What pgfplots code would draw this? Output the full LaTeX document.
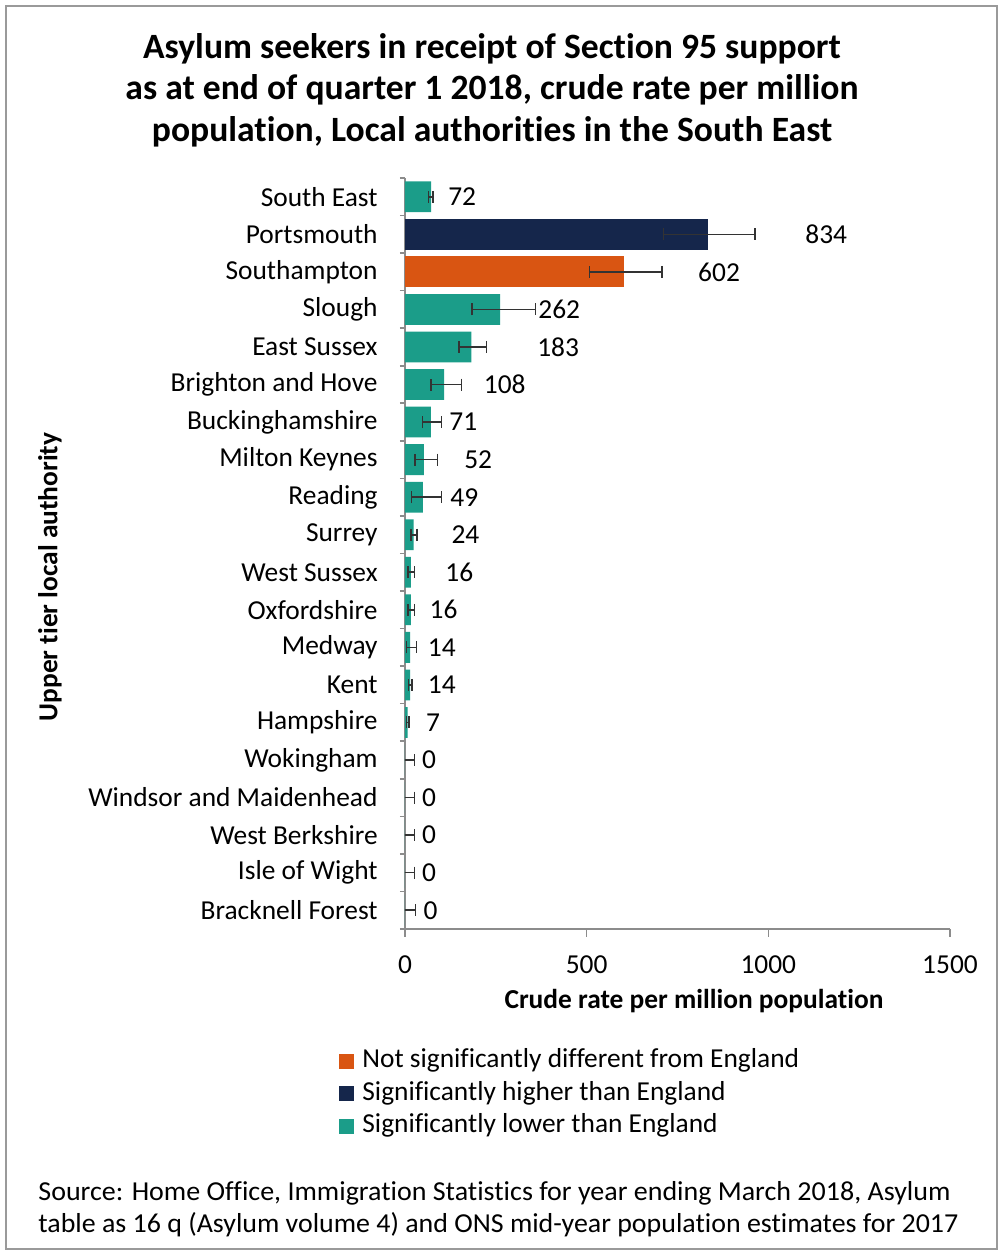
\documentclass[border=0pt]{standalone}
\usepackage{fontspec}
\setmainfont{Carlito}[Ligatures=NoCommon]
\usepackage{graphicx}
\usepackage{pgfplots}
\pgfplotsset{compat=1.18}

\definecolor{sigLower}{HTML}{1B9D89}
\definecolor{sigHigher}{HTML}{15264B}
\definecolor{notSig}{HTML}{D95512}
\definecolor{axisGray}{HTML}{8C8C8C}
\definecolor{errGray}{HTML}{333333}
\definecolor{frameGray}{HTML}{9A9A9A}

\newcommand{\basefont}{\fontsize{13.7}{16.4}\selectfont}

\begin{document}
\begin{tikzpicture}
\path[use as bounding box] (0,0) rectangle (501.5pt,629.5pt);
\fill[white] (0,0) rectangle (501.5pt,629.5pt);
\draw[frameGray, line width=1.4pt] (3pt,5pt) rectangle (498.5pt,626.5pt);

\begin{axis}[
  at={(202.5pt,165pt)}, anchor=south west,
  scale only axis, width=272.5pt, height=375.5pt,
  xmin=0, xmax=1500, ymin=-0.5, ymax=19.5,
  axis x line*=bottom, axis y line*=left,
  axis line style={-, draw=axisGray, line width=0.8pt},
  tick align=outside,
  xtick={0,500,1000,1500},
  major tick length=4pt, minor tick length=2.5pt,
  xtick style={draw=axisGray, line width=0.8pt},
  ytick={0,...,19},
  ytick style={draw=none},
  minor ytick={-0.5,0.5,...,19.5},
  minor y tick style={draw=axisGray, line width=0.8pt},
  yticklabels={Bracknell Forest, Isle of Wight, West Berkshire, Windsor and Maidenhead, Wokingham, Hampshire, Kent, Medway, Oxfordshire, West Sussex, Surrey, Reading, Milton Keynes, Buckinghamshire, Brighton and Hove, East Sussex, Slough, Southampton, Portsmouth, South East},
  ticklabel style={font=\basefont, text=black},
  yticklabel style={inner xsep=0pt, xshift=-9.5pt},
  xticklabel style={inner ysep=0pt, yshift=-9pt},
  /pgf/number format/assume math mode=true,
  /pgf/number format/1000 sep={},
  scaled x ticks=false,
  bar width=0.82,
  error bars/error bar style={line width=0.8pt, draw=errGray},
  error bars/error mark options={line width=0.8pt, draw=errGray, mark size=3pt, rotate=90},
  legend style={draw=none, fill=none, inner sep=0pt, font=\basefont,
    at={(-0.1211,-0.2193)}, anchor=west,
    row sep=2.75pt,
    nodes={inner sep=0pt, text height=10pt, text depth=3.5pt},
    /tikz/every odd column/.append style={column sep=4pt}},
  legend cell align=left,
  legend image code/.code={\fill[#1, draw=none] (0pt,-3.75pt) rectangle (7.5pt,3.75pt);},
]
% Not significantly different from England
\addplot[xbar, bar shift=0pt, fill=notSig, draw=none,
  error bars/.cd, x dir=both, x explicit]
  coordinates {(602,17) += (105,0) -= (94,0)};
\addlegendentry{Not significantly different from England}

% Significantly higher than England
\addplot[xbar, bar shift=0pt, fill=sigHigher, draw=none,
  error bars/.cd, x dir=both, x explicit]
  coordinates {(834,18) += (130,0) -= (122,0)};
\addlegendentry{Significantly higher than England}

% Significantly lower than England
\addplot[xbar, bar shift=0pt, fill=sigLower, draw=none,
  error bars/.cd, x dir=both, x explicit]
  coordinates {
    (72,19)  += (5,0)  -= (7,0)
    (262,16) += (97,0) -= (78,0)
    (183,15) += (41,0) -= (34,0)
    (108,14) += (47,0) -= (36,0)
    (71,13)  += (30,0) -= (23,0)
    (52,12)  += (38,0) -= (25,0)
    (49,11)  += (52,0) -= (31,0)
    (24,10)  += (9,0)  -= (7,0)
    (16,9)   += (10,0) -= (7,0)
    (16,8)   += (10,0) -= (7,0)
    (14,7)   += (18,0) -= (10,0)
    (14,6)   += (5,0)  -= (4,0)
    (7,5)    += (4,0)  -= (3,0)
    (0,4)    += (26,0) -= (0,0)
    (0,3)    += (26,0) -= (0,0)
    (0,2)    += (26,0) -= (0,0)
    (0,1)    += (26,0) -= (0,0)
    (0,0)    += (29,0) -= (0,0)
  };
\addlegendentry{Significantly lower than England}

% value labels
\addplot[forget plot, draw=none, mark=none, nodes near coords,
  point meta=explicit symbolic,
  every node near coord/.append style={anchor=west, inner sep=0pt, font=\basefont, text=black}]
  coordinates {
    (118,19) [72]
    (1101,18) [834]
    (806,17) [602]
    (366,16) [262]
    (363,15) [183]
    (216,14) [108]
    (121,13) [71]
    (162,12) [52]
    (124,11) [49]
    (127,10) [24]
    (110,9) [16]
    (67,8) [16]
    (62,7) [14]
    (62,6) [14]
    (57,5) [7]
    (46,4) [0]
    (46,3) [0]
    (46,2) [0]
    (46,1) [0]
    (50,0) [0]
  };
\end{axis}

% title
\node[align=center, font=\fontsize{17.8}{20.75}\selectfont\bfseries] at (246pt,584.5pt)
  {Asylum seekers in receipt of Section 95 support\\
   as at end of quarter 1 2018, crude rate per million\\
   population, Local authorities in the South East};

% axis titles
\node[font=\basefont\bfseries] at (347pt,129pt) {Crude rate per million population};
\node[font=\basefont\bfseries, rotate=90] at (25pt,341pt) {Upper tier local authority};

% source note
\node[anchor=base west, inner sep=0pt, font=\basefont] at (19pt,29.5pt)
  {\resizebox{456pt}{\height}{Source: Home Office, Immigration Statistics for year ending March 2018, Asylum}};
\node[anchor=base west, inner sep=0pt, font=\basefont] at (19pt,13pt)
  {\resizebox{460pt}{\height}{table as 16 q (Asylum volume 4) and ONS mid-year population estimates for 2017}};
\end{tikzpicture}
\end{document}
